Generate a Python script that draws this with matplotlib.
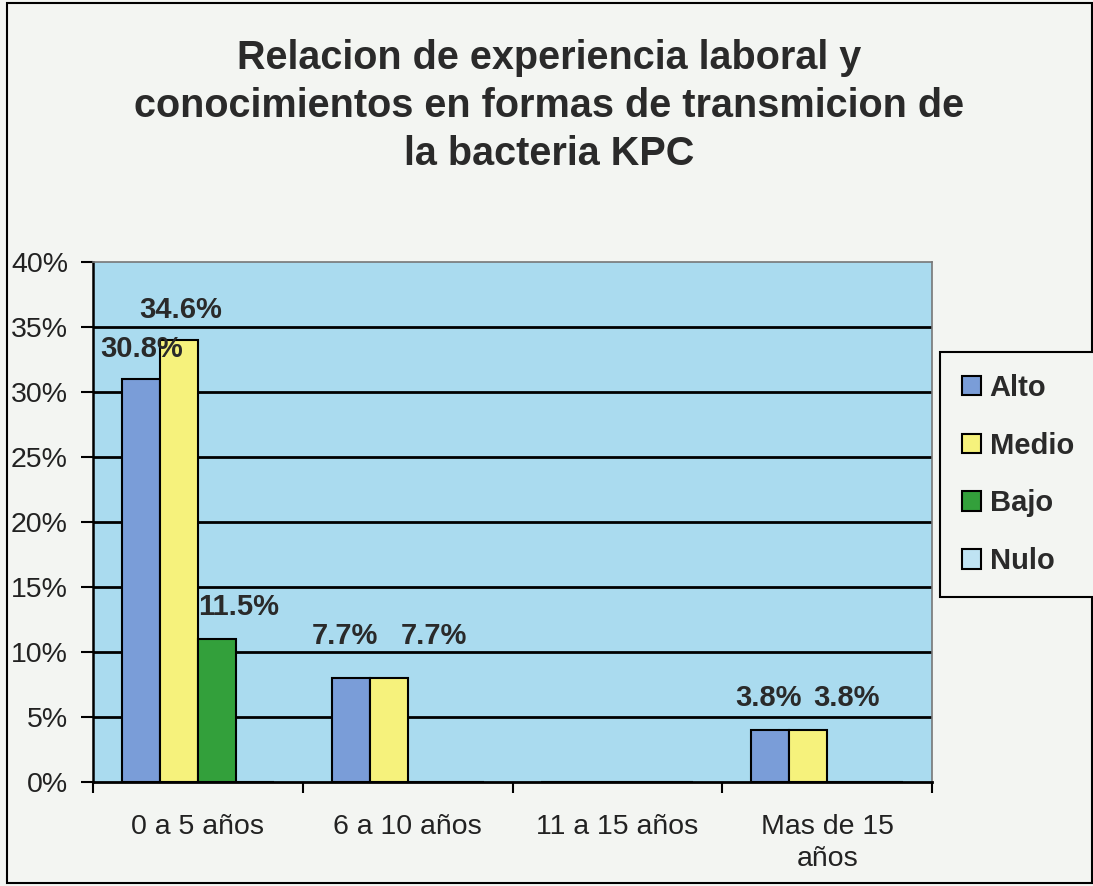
import matplotlib
matplotlib.use("Agg")
import matplotlib.pyplot as plt
from matplotlib.patches import Rectangle
from matplotlib.ticker import PercentFormatter
import numpy as np

plt.rcParams['font.family'] = ['Liberation Sans', 'DejaVu Sans']

title = "Relacion de experiencia laboral y\nconocimientos en formas de transmicion de\nla bacteria KPC"
categories = ["0 a 5 años", "6 a 10 años", "11 a 15 años", "Mas de 15\naños"]
series = ["Alto", "Medio", "Bajo", "Nulo"]

# bar heights as drawn (%)
alto = [31, 8, 0, 4]
medio = [34, 8, 0, 4]
bajo = [11, 0, 0, 0]
nulo = [0, 0, 0, 0]

# data label values (%) ; None = no label
alto_lbl = [30.8, 7.7, None, 3.8]
medio_lbl = [34.6, 7.7, None, 3.8]
bajo_lbl = [11.5, None, None, None]
nulo_lbl = [None, None, None, None]

yticks = [0, 5, 10, 15, 20, 25, 30, 35, 40]

colors = ['#7a9dd8', '#f6f27c', '#33a03b', '#bfe3f3']
plot_bg = '#aadbef'
fig_bg = '#f3f5f2'

W, H = 1093, 886
fig = plt.figure(figsize=(W / 100, H / 100), dpi=100, facecolor=fig_bg)
ax = fig.add_axes([93 / W, 1 - 782 / H, (932 - 93) / W, (782 - 262) / H])
ax.set_facecolor(plot_bg)

values = [alto, medio, bajo, nulo]
labels = [alto_lbl, medio_lbl, bajo_lbl, nulo_lbl]
x = np.arange(len(categories))
bw = 0.181

# label offsets in pixels (dx, dy from bar top)
offsets = {
    (0, 0): (1, 30), (1, 0): (2, 30), (2, 0): (22, 32),
    (0, 1): (-6, 42), (1, 1): (45, 42),
    (0, 3): (-2, 32), (1, 3): (38, 32),
}

ax.set_ylim(0, 40)
ax.set_xlim(-0.5, len(categories) - 0.5)
for yt in yticks[1:-1]:
    ax.axhline(yt, color='black', lw=2, zorder=1)

handles = []
for i, (vals, lbls) in enumerate(zip(values, labels)):
    pos = x + (i - 1.5) * bw
    b = ax.bar(pos, vals, width=bw, color=colors[i], edgecolor='black', lw=1.5, zorder=3, label=series[i])
    handles.append(b)
    for j, (p, v, l) in enumerate(zip(pos, vals, lbls)):
        if l is None:
            continue
        dx, dy = offsets.get((i, j), (0, 30))
        ax.annotate(f"{l:.1f}%", (p, v), xytext=(dx, dy), textcoords='offset pixels',
                    ha='center', va='center', fontsize=21, fontweight='bold', color='#2a2a2a', zorder=5,
                    annotation_clip=False)

ax.set_yticks(yticks)
ax.yaxis.set_major_formatter(PercentFormatter(decimals=0))
ax.tick_params(axis='y', length=9, width=1.5, direction='out', labelsize=20.5, pad=9, colors='black', labelcolor='#222222')

ax.set_xticks(x)
ax.set_xticklabels(categories, linespacing=1.28)
ax.set_xticks(np.arange(-0.5, len(categories)), minor=True)
ax.tick_params(axis='x', which='major', length=0, labelsize=20.5, pad=23, labelcolor='#222222')
ax.tick_params(axis='x', which='minor', length=8, width=1.5, direction='out')

for s in ['top', 'right']:
    ax.spines[s].set_color('#777777')
    ax.spines[s].set_linewidth(1.2)
ax.spines['left'].set_color('black')
ax.spines['left'].set_linewidth(1.8)
ax.spines['bottom'].set_color('black')
ax.spines['bottom'].set_linewidth(2)

fig.text(549 / W, 1 - 106 / H, title, ha='center', va='center', fontsize=28.5, fontweight='bold',
         color='#2a2a2a', linespacing=1.33)

leg = fig.legend(handles=handles, labels=series, loc='upper left',
                 bbox_to_anchor=(940 / W, 1 - 352 / H), frameon=True, fancybox=False,
                 edgecolor='black', facecolor=fig_bg, framealpha=1,
                 prop={'size': 21, 'weight': 'bold'}, handlelength=0.65, handleheight=0.65,
                 handletextpad=0.3, labelspacing=1.02, borderpad=0.75, borderaxespad=0)
leg.get_frame().set_linewidth(1.5)
for t in leg.get_texts():
    t.set_color('#2a2a2a')

fig.patches.append(Rectangle((7 / W, 3 / H), (1092 - 7) / W, (883 - 3) / H, transform=fig.transFigure,
                             fill=False, edgecolor='black', lw=1.5))

fig.savefig('out.png', dpi=100, facecolor=fig_bg)
